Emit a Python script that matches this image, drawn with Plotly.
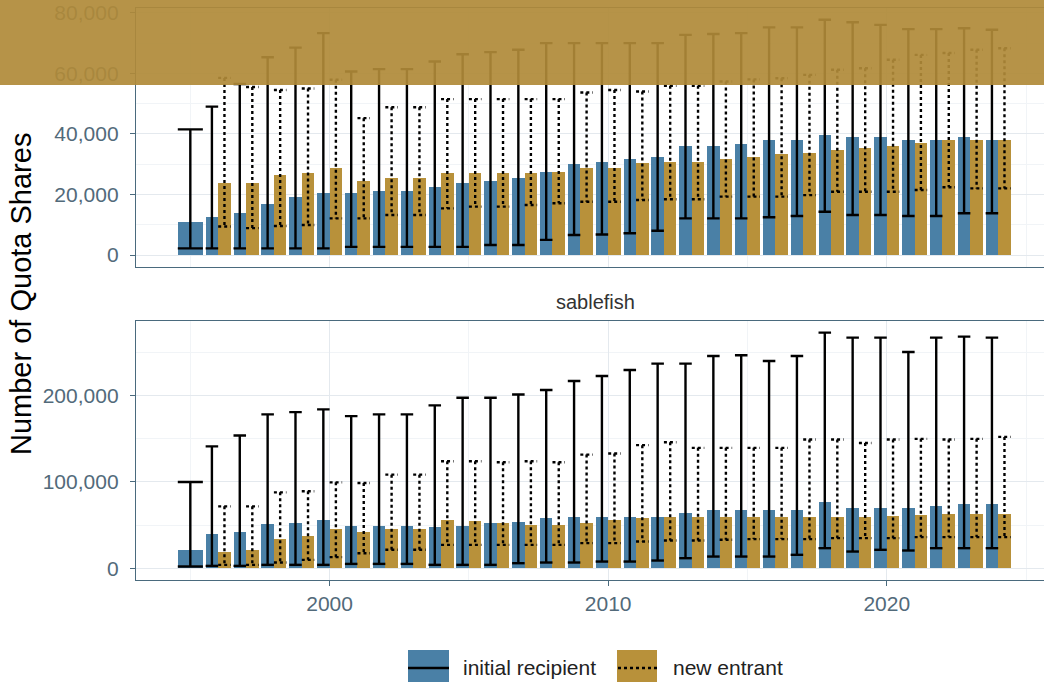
import plotly.graph_objects as go

# ---------------- data (thousands of quota shares) -------------
years = list(range(1995, 2025))

# top panel (species label hidden)
top_init = [11.0, 12.5, 13.8, 16.9, 19.3, 20.6, 20.4, 21.2, 21.2, 22.4, 23.9, 24.5, 25.3, 27.3, 30.0,
            30.8, 31.6, 32.5, 36.0, 36.0, 36.7, 38.0, 38.0, 39.7, 38.9, 38.9, 38.0, 38.0, 38.9, 38.0]
top_init_lo = [2.2, 2.2, 2.2, 2.2, 2.2, 2.2, 2.7, 2.7, 2.7, 2.7, 2.7, 3.3, 3.3, 5.0, 6.6,
               6.8, 7.2, 8.0, 12.1, 12.1, 12.1, 12.5, 12.9, 14.3, 13.2, 13.2, 12.9, 12.9, 13.8, 13.8]
top_init_hi = [41.5, 49.0, 56.5, 65.3, 68.5, 73.3, 60.6, 61.4, 61.4, 63.9, 66.3, 67.0, 67.8, 70.0, 70.0,
               70.0, 70.0, 70.0, 72.7, 73.0, 73.3, 75.2, 75.2, 77.7, 76.9, 76.0, 74.6, 74.6, 74.9, 74.4]
top_new = [None, 23.9, 23.9, 26.4, 27.0, 28.6, 24.6, 25.6, 25.6, 27.2, 27.2, 27.2, 27.2, 27.5, 28.6,
           28.9, 30.3, 30.8, 30.8, 31.6, 32.5, 33.4, 33.8, 34.7, 35.3, 36.0, 37.1, 38.0, 38.0, 38.0]
top_new_lo = [None, 9.4, 8.9, 9.6, 9.9, 12.1, 12.1, 13.2, 13.2, 15.4, 16.0, 16.0, 16.5, 17.1, 17.6,
              17.6, 18.2, 18.4, 18.4, 19.3, 19.3, 19.3, 19.8, 20.9, 20.9, 20.9, 21.5, 22.4, 22.0, 22.0]
top_new_hi = [None, 58.5, 55.5, 54.5, 55.0, 57.9, 45.2, 48.8, 48.8, 51.5, 51.5, 51.5, 51.5, 51.5, 53.7,
              54.5, 54.0, 55.9, 55.9, 57.3, 58.0, 58.4, 59.5, 61.2, 61.7, 64.5, 66.1, 66.7, 67.8, 68.3]

# bottom panel: sablefish
sab_init = [21.3, 39.8, 42.6, 51.5, 52.2, 56.1, 49.1, 49.1, 49.1, 48.4, 49.1, 52.2, 54.2, 58.0, 59.2,
            60.0, 59.2, 60.0, 64.6, 67.7, 67.7, 67.7, 67.7, 77.4, 70.4, 70.4, 69.6, 72.3, 74.7, 74.7]
sab_init_lo = [2.0, 2.7, 2.7, 3.9, 3.9, 3.9, 5.0, 5.0, 5.0, 3.9, 3.9, 3.9, 5.8, 6.6, 6.6,
               7.7, 7.7, 8.9, 11.6, 13.5, 13.5, 13.5, 15.5, 23.2, 19.3, 21.3, 20.5, 23.2, 23.2, 23.2]
sab_init_hi = [99.8, 141.0, 153.6, 178.0, 180.7, 183.8, 176.0, 178.0, 178.0, 188.4, 197.3, 197.3, 201.0,
               206.2, 216.6, 222.4, 229.4, 236.8, 236.8, 245.6, 246.4, 239.8, 245.6, 272.7, 266.9, 266.9,
               250.3, 266.9, 268.0, 266.9]
sab_new = [None, 19.3, 21.3, 33.7, 37.5, 45.3, 41.8, 45.3, 45.3, 56.1, 55.3, 52.2, 50.3, 50.3, 52.2,
           56.1, 58.0, 59.2, 59.2, 59.2, 59.2, 59.2, 59.2, 60.0, 60.0, 61.1, 61.9, 62.7, 62.7, 62.7]
sab_new_lo = [None, 3.9, 3.9, 6.6, 9.7, 12.8, 17.4, 21.3, 21.3, 27.0, 27.0, 27.0, 27.0, 27.0, 29.0,
              29.0, 31.0, 32.1, 32.1, 32.9, 33.7, 33.7, 33.7, 34.8, 34.8, 34.8, 36.0, 36.0, 36.0, 36.0]
sab_new_hi = [None, 71.6, 71.6, 87.8, 89.0, 99.4, 98.6, 108.3, 108.3, 123.8, 123.8, 122.6, 123.8, 122.6,
              131.5, 132.7, 142.4, 145.8, 139.3, 139.3, 139.3, 139.3, 148.9, 148.9, 145.0, 148.9, 149.7,
              148.9, 149.7, 152.0]

group_labels = ["initial recipient", "new entrant"]
x_ticks = [2000, 2010, 2020]

# ---------------- styling ----------------
BLUE = "#4A80A6"
GOLD = "#B8913A"
FONT = "Liberation Sans, Arial, sans-serif"
TICK_COLOR = "#526a7a"
FRAME = "#4a6a7d"
GRID = "#e4e9ee"
GRID_MINOR = "#f1f4f7"

W, H = 1044, 686
ML, MR, MT, MB = 136, 0, 8, 106
PW, PH = W - ML - MR, H - MT - MB

def px_x(X):
    return (X - ML) / PW

def px_y(Y):
    return (H - MB - Y) / PH

DODGE = 0.45

def k(v):
    return [None if a is None else a * 1000 for a in v]

def positions(new_vals):
    xi, wi, xn, wn = [], [], [], []
    for yr, nv in zip(years, new_vals):
        if nv is None:
            xi.append(yr); wi.append(2 * DODGE)
            xn.append(yr); wn.append(DODGE)
        else:
            xi.append(yr - DODGE / 2); wi.append(DODGE)
            xn.append(yr + DODGE / 2); wn.append(DODGE)
    return xi, wi, xn, wn

def err_path(xc, ws, lo, hi):
    xs, ys = [], []
    for x, w, l, h in zip(xc, ws, lo, hi):
        if l is None or h is None:
            continue
        xs += [x - w / 2, x + w / 2, None, x, x, None, x - w / 2, x + w / 2, None]
        ys += [h, h, None, h, l, None, l, l, None]
    return xs, ys

fig = go.Figure()

panels = [
    ("x2", "y2", top_init, top_init_lo, top_init_hi, top_new, top_new_lo, top_new_hi),
    ("x", "y", sab_init, sab_init_lo, sab_init_hi, sab_new, sab_new_lo, sab_new_hi),
]
for xa, ya, ini, ilo, ihi, new, nlo, nhi in panels:
    xi, wi, xn, wn = positions(new)
    fig.add_trace(go.Bar(x=xi, y=k(ini), width=wi, marker=dict(color=BLUE, line=dict(width=0)),
                         name=group_labels[0], showlegend=False, xaxis=xa, yaxis=ya))
    fig.add_trace(go.Bar(x=xn, y=k(new), width=wn, marker=dict(color=GOLD, line=dict(width=0)),
                         name=group_labels[1], showlegend=False, xaxis=xa, yaxis=ya))
    ex, ey = err_path(xi, wi, k(ilo), k(ihi))
    fig.add_trace(go.Scatter(x=ex, y=ey, mode="lines", line=dict(color="black", width=2.4),
                             showlegend=False, hoverinfo="skip", xaxis=xa, yaxis=ya))
    ex, ey = err_path(xn, wn, k(nlo), k(nhi))
    fig.add_trace(go.Scatter(x=ex, y=ey, mode="lines", line=dict(color="black", width=2.4, dash="dot"),
                             showlegend=False, hoverinfo="skip", xaxis=xa, yaxis=ya))

x_range = [1993.05, 1993.05 + (PW + 3) / 27.95]
common_x = dict(range=x_range, showline=True, mirror=True, linecolor=FRAME, linewidth=1.4,
                tickvals=x_ticks, showgrid=True, gridcolor=GRID, gridwidth=1.2, zeroline=False,
                minor=dict(tickvals=[1995, 2005, 2015, 2025], showgrid=True, gridcolor=GRID_MINOR,
                           gridwidth=1),
                tickfont=dict(size=21, color=TICK_COLOR, family=FONT))
common_y = dict(showline=True, mirror=True, linecolor=FRAME, linewidth=1.4, zeroline=False,
                showgrid=True, gridcolor=GRID, gridwidth=1.2, tickformat=",",
                ticks="outside", ticklen=5, tickcolor=FRAME, tickwidth=1.4, ticklabelstandoff=7,
                tickfont=dict(size=21, color=TICK_COLOR, family=FONT))

fig.update_layout(
    width=W, height=H, barmode="overlay", bargap=0,
    margin=dict(l=ML, r=MR, t=MT, b=MB, pad=0),
    plot_bgcolor="white", paper_bgcolor="white",
    font=dict(family=FONT),
    showlegend=False,
    xaxis=dict(common_x, anchor="y", ticks="outside", ticklen=5, tickcolor=FRAME, tickwidth=1.4),
    xaxis2=dict(common_x, anchor="y2", matches="x", showticklabels=False, ticks=""),
    yaxis=dict(common_y, domain=[0, px_y(320.8)], range=[-13635, 286335],
               tickvals=[0, 100000, 200000],
               minor=dict(tickvals=[50000, 150000, 250000], showgrid=True, gridcolor=GRID_MINOR)),
    yaxis2=dict(common_y, domain=[px_y(266.8), 1], range=[-3885, 81585],
                tickvals=[0, 20000, 40000, 60000, 80000],
                minor=dict(tickvals=[10000, 30000, 50000, 70000], showgrid=True, gridcolor=GRID_MINOR)),
)

shapes = [
    # gold band covering the top of the picture
    dict(type="rect", xref="paper", yref="paper", x0=px_x(0), x1=px_x(W + 4), y0=px_y(85), y1=px_y(-2),
         fillcolor="#B08A38", opacity=0.92, line=dict(width=0), layer="above"),
    # legend keys
    dict(type="rect", xref="paper", yref="paper", x0=px_x(408), x1=px_x(449), y0=px_y(682), y1=px_y(650),
         fillcolor=BLUE, line=dict(width=0)),
    dict(type="line", xref="paper", yref="paper", x0=px_x(408), x1=px_x(449), y0=px_y(668), y1=px_y(668),
         line=dict(color="black", width=2.6)),
    dict(type="rect", xref="paper", yref="paper", x0=px_x(617), x1=px_x(657), y0=px_y(682), y1=px_y(650),
         fillcolor=GOLD, line=dict(width=0)),
    dict(type="line", xref="paper", yref="paper", x0=px_x(618), x1=px_x(657), y0=px_y(668), y1=px_y(668),
         line=dict(color="black", width=2.6, dash="dot")),
]
fig.update_layout(shapes=shapes)

annotations = [
    dict(text="Number of Quota Shares", xref="paper", yref="paper", x=px_x(21), y=px_y(294),
         textangle=-90, showarrow=False, xanchor="center", yanchor="middle",
         font=dict(size=29, color="black", family=FONT)),
    dict(text="sablefish", xref="paper", yref="paper", x=px_x(595), y=px_y(302), showarrow=False,
         xanchor="center", yanchor="middle", font=dict(size=20, color="#333333", family=FONT)),
    dict(text=group_labels[0], xref="paper", yref="paper", x=px_x(461), y=px_y(667), showarrow=False,
         xanchor="left", yanchor="middle", font=dict(size=21, color="#222222", family=FONT)),
    dict(text=group_labels[1], xref="paper", yref="paper", x=px_x(671), y=px_y(667), showarrow=False,
         xanchor="left", yanchor="middle", font=dict(size=21, color="#222222", family=FONT)),
]
fig.update_layout(annotations=annotations)

fig.write_html("out.html", config={"displayModeBar": False},
               post_script="document.body.style.margin='0';document.body.style.overflow='hidden';")
